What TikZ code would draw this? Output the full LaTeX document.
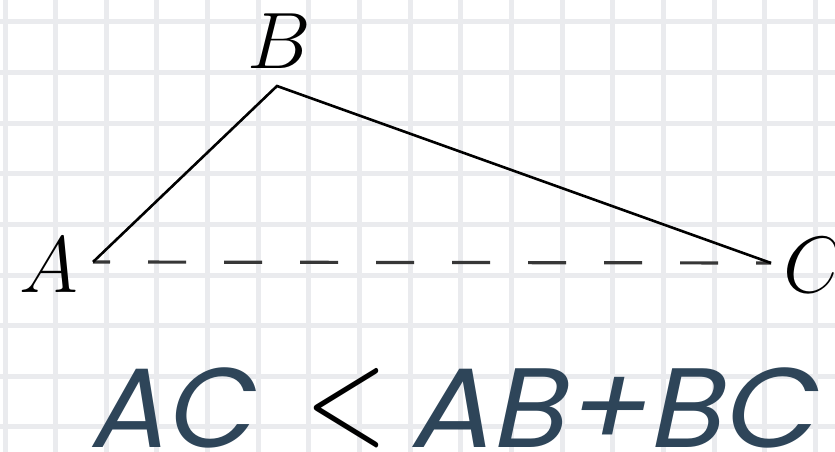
\documentclass[tikz,border=0pt]{standalone}
\usepackage{fix-cm}
\usepackage{fontspec}
\usepackage{graphicx}
\newfontfamily\popfont[FakeSlant=0.2]{Poppins}
\definecolor{gridc}{RGB}{234,235,238}
\definecolor{textc}{RGB}{46,69,89}
\definecolor{dashc}{RGB}{55,55,55}
\tikzset{
  gridline/.style={draw=gridc, line width=5pt},
  side/.style={draw=black, line width=2.6pt, line join=miter},
  dashside/.style={draw=dashc, line width=3.2pt, dash pattern=on 38pt off 38pt, dash phase=21pt},
  vlabel/.style={inner sep=0pt, anchor=base west, font=\fontsize{80}{80}\selectfont},
  bigtext/.style={inner sep=0pt, anchor=base west, text=textc, font=\fontsize{113}{113}\popfont}
}
\begin{document}
\begin{tikzpicture}[x=1pt,y=-1pt]
\useasboundingbox (0,0) rectangle (835,452);
\fill[white] (0,0) rectangle (835,452);
\foreach \k in {0,...,16} { \draw[gridline] ({5+50.65*\k},0) -- ({5+50.65*\k},452); }
\foreach \k in {0,...,8} { \draw[gridline] (0,{22+50.6*\k}) -- (835,{22+50.6*\k}); }
\coordinate (A) at (93,262);
\coordinate (B) at (277,86);
\coordinate (C) at (771,263);
\draw[dashside] (A) -- (C);
\draw[side] (A) -- (B) -- (C);
\node[vlabel] (lA) at (19,292) {$A$};
\node[vlabel] (lB) at (247,68) {$B$};
\node[vlabel] (lC) at (783,292) {$C$};
\node[bigtext] (t1) at (88,447) {AC};
\node[inner sep=0pt, anchor=north west] (lt) at (305,368) {\resizebox{82pt}{74pt}{$<$}};
\node[bigtext, xscale=1.07, anchor=base west] (t2) at (408,447) {AB+BC};
\end{tikzpicture}
\end{document}
